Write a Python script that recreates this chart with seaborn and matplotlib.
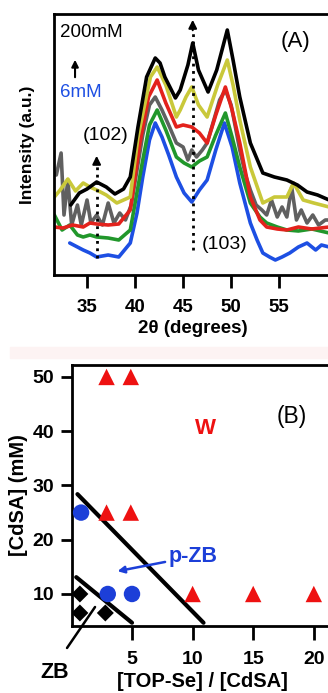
import matplotlib
matplotlib.use("Agg")
import matplotlib.pyplot as plt
import seaborn as sns
import pandas as pd

# ---- panel A: XRD patterns (intensity in arbitrary units) ----
tt_black = [33.3, 34.2, 35.0, 36.0, 37.0, 37.9, 38.8, 39.5, 40.3, 41.2, 42.1, 42.6, 43.1, 44.2, 44.7, 45.5, 46.0, 46.6, 47.6, 48.5, 49.6, 50.2, 50.9, 52.0, 53.3, 54.5, 55.8, 56.9, 57.9, 59.0, 60.2]
in_black = [70, 82, 86, 93, 88, 81, 86, 98, 148, 198, 217, 212, 198, 177, 185, 210, 232, 205, 183, 205, 245, 215, 178, 132, 102, 98, 95, 90, 83, 80, 75]

tt_yellow = [31.6, 32.2, 33.0, 33.8, 34.6, 35.3, 36.0, 37.0, 38.1, 39.5, 40.3, 41.6, 42.3, 43.2, 44.3, 44.7, 45.3, 45.9, 46.6, 47.5, 48.6, 49.6, 50.2, 50.9, 52.0, 53.3, 54.5, 55.8, 56.5, 57.5, 58.6, 60.2]
in_yellow = [78, 85, 96, 84, 92, 88, 85, 80, 72, 78, 138, 198, 208, 190, 158, 165, 178, 188, 170, 158, 190, 215, 190, 155, 108, 72, 78, 78, 92, 75, 72, 68]

tt_red = [31.6, 32.5, 33.5, 34.6, 35.3, 36.0, 37.2, 38.3, 39.5, 40.5, 41.4, 42.3, 43.2, 44.3, 45.0, 45.9, 46.7, 47.5, 48.4, 49.4, 50.1, 50.9, 52.0, 53.0, 53.7, 54.8, 55.8, 57.0, 58.4, 60.2]
in_red = [48, 47, 50, 48, 52, 51, 50, 51, 65, 132, 178, 195, 172, 148, 150, 148, 142, 132, 160, 188, 165, 132, 78, 55, 48, 46, 45, 48, 46, 48]

tt_gray = [31.8, 32.3, 32.6, 33.0, 33.4, 34.0, 34.4, 35.0, 35.4, 36.0, 36.6, 37.2, 37.8, 38.4, 39.0, 39.6, 40.2, 40.8, 41.5, 42.1, 42.8, 43.5, 44.3, 45.0, 45.5, 45.9, 46.4, 47.0, 47.5, 48.2, 48.8, 49.4, 50.0, 50.5, 50.9, 51.5, 52.0, 52.6, 53.2, 53.7, 54.2, 54.8, 55.3, 55.8, 56.3, 56.8, 57.3, 57.9, 58.5, 59.1, 59.8, 60.2]
in_gray = [100, 122, 60, 95, 50, 70, 50, 75, 52, 60, 50, 72, 52, 62, 55, 70, 105, 140, 170, 178, 165, 150, 132, 128, 115, 125, 118, 125, 132, 155, 175, 185, 170, 145, 125, 100, 85, 70, 65, 60, 75, 58, 68, 58, 88, 55, 65, 52, 60, 50, 55, 55]

tt_green = [31.6, 32.4, 33.2, 34.0, 34.6, 35.3, 36.0, 37.2, 38.3, 39.5, 40.8, 41.5, 42.3, 43.2, 44.3, 45.1, 45.9, 46.7, 47.5, 48.4, 49.4, 50.1, 50.9, 52.0, 53.0, 53.7, 54.8, 55.8, 57.0, 58.4, 60.2]
in_green = [60, 45, 50, 40, 38, 40, 38, 37, 35, 45, 115, 150, 165, 145, 118, 112, 108, 114, 118, 140, 162, 138, 108, 72, 58, 52, 48, 45, 44, 46, 42]

tt_blue = [33.2, 34.0, 34.6, 35.3, 36.0, 37.2, 38.3, 39.5, 40.2, 40.8, 41.5, 42.1, 42.8, 43.5, 44.3, 45.1, 45.9, 46.7, 47.5, 48.4, 49.3, 50.1, 50.9, 52.0, 52.7, 53.3, 54.0, 54.6, 55.3, 56.1, 57.0, 57.9, 58.8, 59.4, 60.2]
in_blue = [32, 28, 25, 22, 18, 20, 18, 32, 62, 98, 135, 152, 138, 120, 98, 82, 73, 85, 95, 125, 152, 128, 92, 52, 35, 22, 18, 15, 18, 22, 28, 32, 25, 30, 28]

curve_colors = ["#000000", "#c9c83a", "#e3221c", "#606060", "#21972b", "#1d4fe3"]

# ---- panel B: phase diagram ----
zb_x = [0.7, 0.7, 2.8]
zb_y = [10, 6.5, 6.5]
pzb_x = [0.8, 3, 5]
pzb_y = [25, 10, 10]
w_x = [2.9, 4.9, 2.9, 4.9, 10, 15, 20]
w_y = [50, 50, 25, 25, 10, 10, 10]
bound1_x = [0.5, 10.9]
bound1_y = [28.4, 4.7]
bound2_x = [0.4, 5.0]
bound2_y = [13.1, 4.7]

sns.set_style("ticks")
plt.rcParams["font.family"] = ["Liberation Sans", "DejaVu Sans"]
plt.rcParams.update({
    "axes.linewidth": 2.0,
    "axes.edgecolor": "black",
    "text.color": "black",
    "axes.labelcolor": "black",
    "xtick.color": "black",
    "ytick.color": "black",
})

fig = plt.figure(figsize=(3.28, 6.93), dpi=100)
fig.patches.append(plt.Rectangle((0.03, 0.483), 0.97, 0.017, transform=fig.transFigure,
                                 color="#fdf3f3", zorder=0))

# ---------- panel A ----------
axA = fig.add_axes([54 / 328, 1 - 275 / 693, 278 / 328, 261 / 693])
series = [(tt_black, in_black), (tt_yellow, in_yellow), (tt_red, in_red),
          (tt_gray, in_gray), (tt_green, in_green), (tt_blue, in_blue)]
for (tt, iv), c in zip(series[::-1], curve_colors[::-1]):
    df = pd.DataFrame({"tt": tt, "I": iv})
    sns.lineplot(data=df, x="tt", y="I", ax=axA, color=c, lw=2.6, sort=False,
                 estimator=None)

axA.set_xlim(31.56, 60.5)
axA.set_ylim(0, 261)
axA.set_xticks([35, 40, 45, 50, 55])
axA.set_yticks([])
axA.tick_params(axis="x", direction="out", length=9, width=2, labelsize=13.5, pad=8)
for lab in axA.get_xticklabels():
    lab.set_fontweight("bold")
axA.set_xlabel("2θ (degrees)", fontsize=13.5, fontweight="bold", labelpad=3)
axA.set_ylabel("Intensity (a.u.)", fontsize=12.5, fontweight="bold", labelpad=14)

# dotted peak markers
axA.plot([36.0, 36.0], [17, 112], ls=":", color="black", lw=2)
axA.annotate("", xy=(36.0, 122), xytext=(36.0, 108),
             arrowprops=dict(arrowstyle="-|>", color="black", lw=1.5, mutation_scale=12))
axA.plot([46.0, 46.0], [25, 246], ls=":", color="black", lw=2)
axA.annotate("", xy=(46.0, 258), xytext=(46.0, 242),
             arrowprops=dict(arrowstyle="-|>", color="black", lw=1.5, mutation_scale=12))
axA.text(36.9, 139, "(102)", fontsize=14, ha="center", va="center")
axA.text(49.3, 30, "(103)", fontsize=14, ha="center", va="center")
axA.text(56.7, 233, "(A)", fontsize=16, ha="center", va="center")
axA.text(32.2, 242, "200mM", fontsize=13.5, ha="left", va="center")
axA.text(32.2, 182, "6mM", fontsize=13.5, ha="left", va="center", color="#1d4fe3")
axA.annotate("", xy=(33.75, 218), xytext=(33.75, 195),
             arrowprops=dict(arrowstyle="-|>", color="black", lw=1.5, mutation_scale=10))

# ---------- panel B ----------
axB = fig.add_axes([72 / 328, 1 - 626 / 693, 260 / 328, 261 / 693])
sns.lineplot(x=bound1_x, y=bound1_y, ax=axB, color="black", lw=3)
sns.lineplot(x=bound2_x, y=bound2_y, ax=axB, color="black", lw=3)
sns.scatterplot(x=w_x, y=w_y, ax=axB, marker="^", s=140, color="#ee1111",
                edgecolor="none", zorder=3)
sns.scatterplot(x=pzb_x, y=pzb_y, ax=axB, marker="o", s=140, color="#1c3fd8",
                edgecolor="none", zorder=3)
sns.scatterplot(x=zb_x, y=zb_y, ax=axB, marker="D", s=75, color="black",
                edgecolor="none", zorder=3)

axB.set_xlim(0.05, 21.5)
axB.set_ylim(4.1, 52.2)
axB.set_xticks([5, 10, 15, 20])
axB.set_yticks([10, 20, 30, 40, 50])
axB.tick_params(axis="x", direction="out", length=10, width=2, labelsize=14, pad=8)
axB.tick_params(axis="y", direction="out", length=8, width=2, labelsize=14, pad=5)
for lab in axB.get_xticklabels() + axB.get_yticklabels():
    lab.set_fontweight("bold")
axB.set_xlabel("[TOP-Se] / [CdSA]", fontsize=14.5, fontweight="bold", labelpad=3)
axB.set_ylabel("[CdSA] (mM)", fontsize=14.5, fontweight="bold", labelpad=3)

axB.text(18.2, 42.8, "(B)", fontsize=16.5, ha="center", va="center")
axB.text(11.1, 40.5, "W", fontsize=16, fontweight="bold", color="#ee1111",
         ha="center", va="center")
axB.annotate("p-ZB", xy=(3.8, 14.2), xytext=(8.0, 16.9), fontsize=15.5,
             fontweight="bold", color="#1c3fd8", ha="left", va="center",
             arrowprops=dict(arrowstyle="-|>", color="#1c3fd8", lw=1.8,
                             mutation_scale=10, shrinkA=0, shrinkB=0))
axB.annotate("", xy=(1.95, 7.6), xytext=(-0.36, 0.05), annotation_clip=False,
             arrowprops=dict(arrowstyle="-", color="black", lw=1.8,
                             shrinkA=0, shrinkB=0))
axB.text(-1.35, -4.4, "ZB", fontsize=15.5, fontweight="bold", ha="center",
         va="center", clip_on=False)

fig.savefig("out.png", dpi=100)
